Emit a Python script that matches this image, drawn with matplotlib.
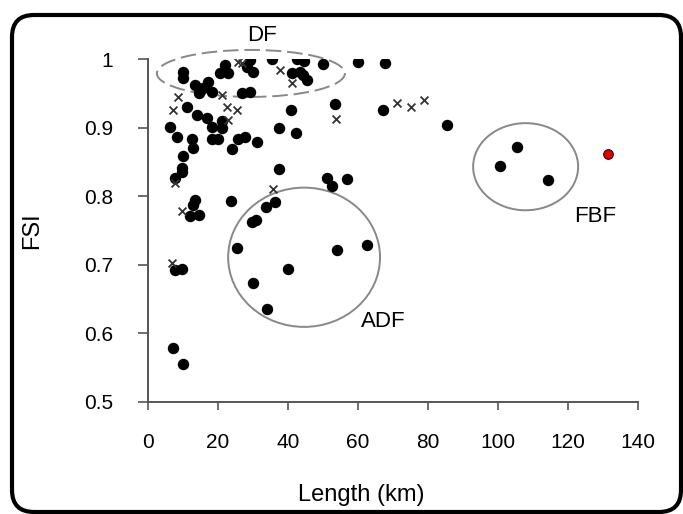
import matplotlib.pyplot as plt
from matplotlib.patches import Ellipse, FancyBboxPatch

plt.rcParams["font.family"] = ["Liberation Sans", "DejaVu Sans"]

# filled dots: length (km), FSI
dot_len = [10.1, 10.1, 13.4, 14.7, 17.2, 18.2, 15.7, 20.6, 22.0, 22.9,
           29.1, 28.2, 30.1, 35.3, 42.5, 44.6, 41.1, 43.4, 44.4, 45.3,
           50.1, 60.1, 67.7, 29.1, 26.8, 11.1, 13.9, 16.8, 21.1, 6.3,
           18.2, 21.1, 40.9, 53.4, 37.5, 42.3, 8.2, 12.5, 18.2, 20.1,
           25.8, 27.7, 31.1, 12.9, 23.9, 10.1, 9.6, 37.5, 51.1, 52.7,
           56.8, 9.6, 7.7, 36.3, 33.7, 23.6, 13.4, 12.9, 12.0, 14.7,
           29.6, 30.9, 25.4, 53.9, 62.5, 7.7, 9.6, 40.1, 30.0, 34.0,
           7.2, 10.1, 67.1, 85.5, 105.3, 100.6, 114.4]
dot_fsi = [0.981, 0.972, 0.962, 0.950, 0.967, 0.952, 0.958, 0.979, 0.991, 0.979,
           0.999, 0.989, 0.981, 1.000, 1.000, 0.997, 0.979, 0.981, 0.977, 0.969,
           0.993, 0.996, 0.994, 0.952, 0.950, 0.930, 0.918, 0.914, 0.909, 0.901,
           0.901, 0.899, 0.926, 0.935, 0.900, 0.892, 0.887, 0.884, 0.884, 0.884,
           0.884, 0.887, 0.879, 0.870, 0.869, 0.858, 0.841, 0.840, 0.827, 0.815,
           0.825, 0.836, 0.826, 0.791, 0.784, 0.793, 0.794, 0.787, 0.771, 0.773,
           0.763, 0.765, 0.725, 0.722, 0.729, 0.692, 0.694, 0.694, 0.673, 0.635,
           0.578, 0.555, 0.926, 0.904, 0.872, 0.844, 0.823]

# cross markers
x_len = [25.8, 26.9, 37.7, 41.1, 8.7, 21.1, 7.2, 22.7, 25.5, 22.9,
         53.7, 71.2, 75.1, 78.9, 7.7, 35.8, 9.6, 6.8]
x_fsi = [0.996, 0.994, 0.984, 0.965, 0.945, 0.947, 0.925, 0.930, 0.925, 0.911,
         0.912, 0.936, 0.930, 0.940, 0.819, 0.810, 0.778, 0.702]

# highlighted fault
red_len = [131.5]
red_fsi = [0.862]

fig = plt.figure(figsize=(6.83, 5.14), dpi=100)
ax = fig.add_axes([0.2167, 0.2179, 0.7174, 0.6673])

ax.scatter(dot_len, dot_fsi, s=52, color="black", zorder=3)
ax.scatter(x_len, x_fsi, s=32, marker="x", color="#333333", linewidths=1.3, zorder=3)
ax.scatter(red_len, red_fsi, s=48, color="#e00000", edgecolors="#400000",
           linewidths=0.8, zorder=4)

# group outlines
ax.add_patch(Ellipse((29.4, 0.979), 53.7, 0.0685, fill=False, ec="#888888",
                     lw=1.4, ls=(0, (8, 3)), clip_on=False))
ax.add_patch(Ellipse((44.6, 0.711), 43.4, 0.203, fill=False, ec="#888888", lw=1.4))
ax.add_patch(Ellipse((107.9, 0.843), 30.0, 0.127, fill=False, ec="#888888", lw=1.4))

ax.text(32.6, 1.034, "DF", fontsize=16, ha="center", va="center", clip_on=False)
ax.text(67.1, 0.617, "ADF", fontsize=16, ha="center", va="center")
ax.text(127.7, 0.770, "FBF", fontsize=16, ha="center", va="center")

ax.set_xlim(0, 140)
ax.set_ylim(0.5, 1.0)
ax.set_xticks(range(0, 141, 20))
ax.set_yticks([0.5, 0.6, 0.7, 0.8, 0.9, 1.0])
ax.set_yticklabels(["0.5", "0.6", "0.7", "0.8", "0.9", "1"])
ax.tick_params(axis="x", length=6, width=1.2, color="#555555", pad=16, labelsize=15)
ax.tick_params(axis="y", length=7, width=1.2, color="#555555", pad=18, labelsize=15)

for side in ["top", "right"]:
    ax.spines[side].set_visible(False)
for side in ["left", "bottom"]:
    ax.spines[side].set_color("#555555")
    ax.spines[side].set_linewidth(1.4)

ax.set_xlabel("Length (km)", fontsize=17)
ax.xaxis.set_label_coords(0.435, -0.24)
ax.set_ylabel("FSI", fontsize=17)
ax.yaxis.set_label_coords(-0.215, 0.5)

# rounded border around the whole figure
frame = FancyBboxPatch((0.12, 0.02), 6.69, 4.97, boxstyle="round,pad=0,rounding_size=0.22",
                       transform=fig.dpi_scale_trans, fill=False, ec="black", lw=3)
fig.patches.append(frame)

fig.savefig("out.png", dpi=100)
